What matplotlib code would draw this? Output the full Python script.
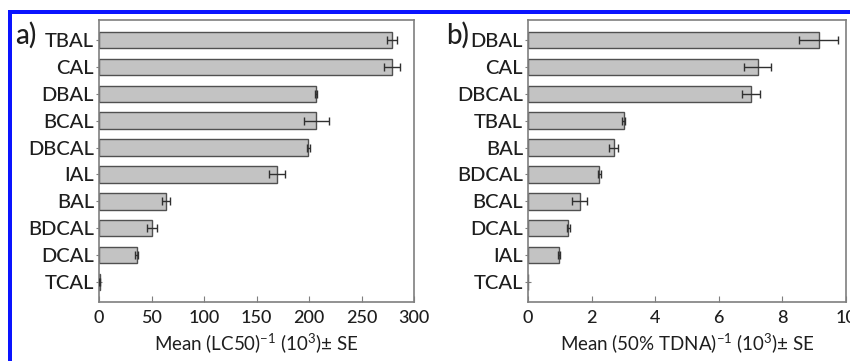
import matplotlib
matplotlib.use('Agg')
import matplotlib.pyplot as plt
from matplotlib.patches import Rectangle
import numpy as np

plt.rcParams['font.family'] = ['Lato', 'DejaVu Sans']
plt.rcParams['font.weight'] = 'medium'
plt.rcParams['mathtext.fontset'] = 'custom'
plt.rcParams['mathtext.rm'] = 'Lato:medium'

# パネルa: 細胞毒性
labels_a = ['TBAL', 'CAL', 'DBAL', 'BCAL', 'DBCAL', 'IAL', 'BAL', 'BDCAL', 'DCAL', 'TCAL']
mean_a = [279, 278.7, 206.7, 207, 199.4, 169.8, 63.8, 50.8, 35.8, 0.6]
se_a = [5.0, 7.5, 1.2, 11.6, 1.2, 7.8, 4.0, 4.8, 1.2, 0.3]

# パネルb: 遺伝毒性
labels_b = ['DBAL', 'CAL', 'DBCAL', 'TBAL', 'BAL', 'BDCAL', 'BCAL', 'DCAL', 'IAL', 'TCAL']
mean_b = [9.14, 7.22, 7.01, 3.01, 2.69, 2.24, 1.62, 1.27, 0.98, 0.0]
se_b = [0.61, 0.42, 0.28, 0.04, 0.13, 0.04, 0.23, 0.04, 0.04, 0.0]

W, H = 850, 361
fig = plt.figure(figsize=(W / 100, H / 100), dpi=100)

spine_c = '#7f7f7f'
text_c = '#1e1e1e'


def panel(rect, labels, mean, se, xmax, xticks, xlabel, tag, tag_x):
    ax = fig.add_axes(rect)
    y = np.arange(len(labels))
    mean = np.asarray(mean)
    se = np.asarray(se)
    ax.barh(y, mean, height=0.62, color='#c3c3c3', edgecolor='#505050',
            linewidth=1.0, zorder=2)
    has = mean > 0
    ax.errorbar(mean[has], y[has], xerr=se[has], fmt='none', ecolor='#303030',
                elinewidth=1.0, capsize=3, capthick=1.0, zorder=3)
    ax.set_ylim(len(labels) - 0.25, -0.75)
    ax.set_xlim(0, xmax)
    ax.set_yticks(y)
    ax.set_yticklabels(labels, fontsize=14.5, color=text_c)
    ax.set_xticks(xticks)
    ax.set_xticklabels([str(t) for t in xticks], fontsize=13, color=text_c)
    ax.tick_params(axis='y', direction='inout', length=5, width=0.8,
                   color=spine_c, pad=1)
    ax.tick_params(axis='x', direction='in', length=4, width=0.8,
                   color=spine_c, pad=6)
    for s in ax.spines.values():
        s.set_color(spine_c)
        s.set_linewidth(1.2)
    ax.set_xlabel(xlabel, fontsize=13.5, color=text_c, labelpad=4)
    fig.text(tag_x / W, 1 - 35 / H, tag, fontsize=20, color=text_c,
             va='center', ha='left')
    return ax


panel([99 / W, 1 - 302 / H, 315 / W, 282 / H], labels_a, mean_a, se_a,
      300, [0, 50, 100, 150, 200, 250, 300],
      r'Mean (LC50)$^{\mathdefault{-1}}$ (10$^{\mathdefault{3}}$)± SE', 'a)', 15)
panel([528 / W, 1 - 302 / H, 318 / W, 282 / H], labels_b, mean_b, se_b,
      10, [0, 2, 4, 6, 8, 10],
      r'Mean (50% TDNA)$^{\mathdefault{-1}}$ (10$^{\mathdefault{3}}$)± SE', 'b)', 446)

# 青い枠線
fig.add_artist(Rectangle((8 / W, 1 - 14 / H), 1, 4 / H, transform=fig.transFigure,
                         color='#0a14ff', lw=0))
fig.add_artist(Rectangle((8 / W, 0), 4 / W, 1 - 10 / H, transform=fig.transFigure,
                         color='#0a14ff', lw=0))

fig.savefig('out.png', dpi=100)
